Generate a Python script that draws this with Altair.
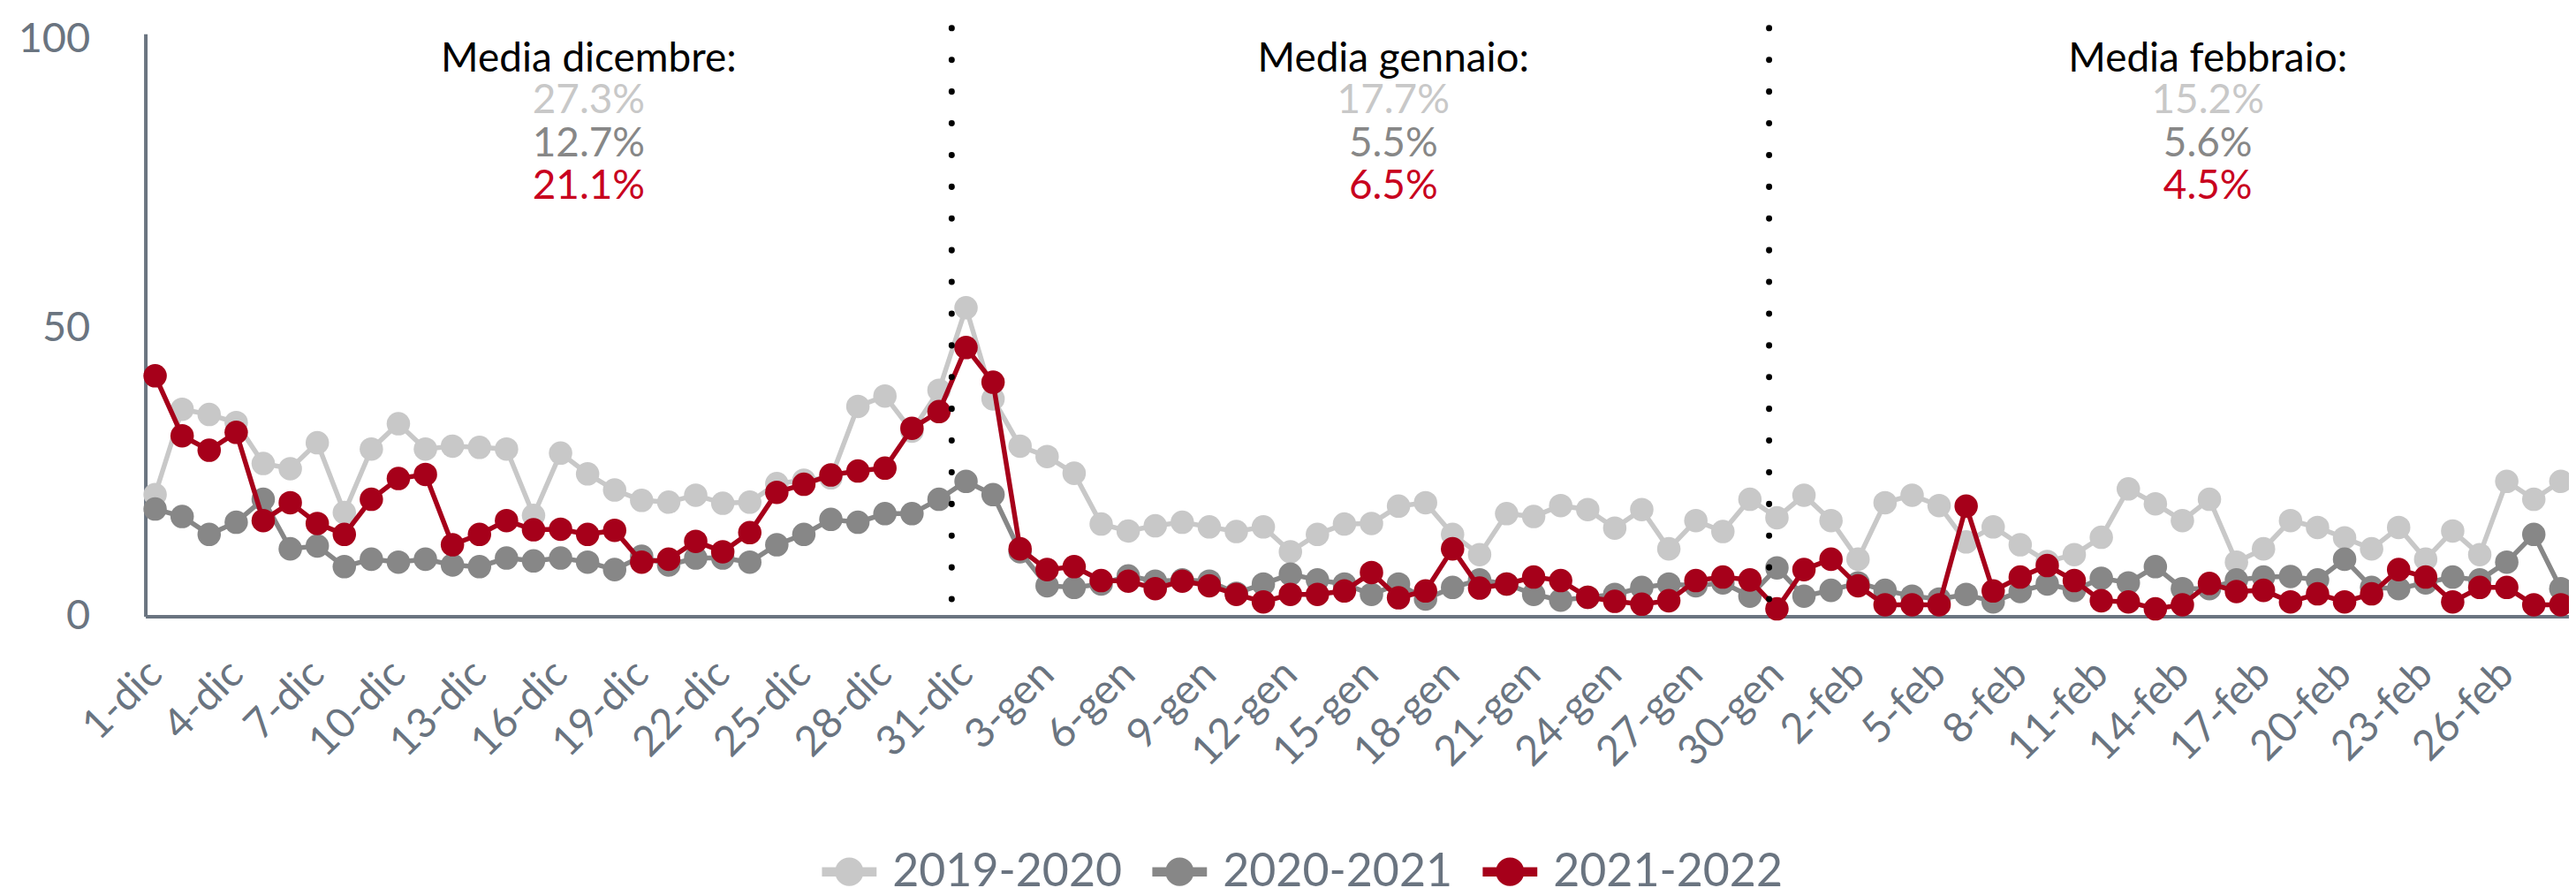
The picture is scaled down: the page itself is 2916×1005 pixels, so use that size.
import altair as alt
import pandas as pd

# ---- categories ----
days = ([f"{d}-dic" for d in range(1, 32)] + [f"{d}-gen" for d in range(1, 32)]
        + [f"{d}-feb" for d in range(1, 29)])
series = ["2019-2020", "2020-2021", "2021-2022"]
colors = ["#c8c8c8", "#878787", "#a6001a"]
text_colors = ["#c8c8c8", "#878787", "#c8001e"]

# ---- series values ----
s2019 = [21.1, 35.9, 35.0, 33.6, 26.5, 25.6, 30.1, 18.0, 29.0, 33.4, 29.0, 29.5, 29.3,
         29.0, 17.5, 28.3, 24.7, 21.9, 20.1, 19.8, 21.0, 19.6, 19.8, 23.0, 23.6, 24.0,
         36.4, 38.2, 32.1, 39.2, 53.5, 37.7, 29.5, 27.7, 24.8, 16.0, 14.8, 15.7, 16.3,
         15.5, 14.7, 15.5, 11.2, 14.2, 16.0, 16.1, 19.1, 19.7, 14.2, 10.7, 17.8, 17.3,
         19.2, 18.5, 15.3, 18.5, 11.7, 16.6, 14.7, 20.3, 17.1, 21.0, 16.6, 9.9, 19.7,
         21.0, 19.2, 12.9, 15.5, 12.4, 9.5, 10.7, 13.7, 22.1, 19.5, 16.6, 20.3, 9.4,
         11.7, 16.6, 15.4, 13.6, 11.7, 15.4, 9.9, 14.8, 10.7, 23.4, 20.3, 23.4]
s2020 = [18.6, 17.3, 14.2, 16.3, 20.3, 11.7, 12.2, 8.6, 9.9, 9.4, 9.9, 8.9, 8.6,
         10.1, 9.6, 10.1, 9.4, 8.1, 10.4, 8.9, 10.1, 10.1, 9.4, 12.4, 14.2, 16.8,
         16.3, 17.8, 17.8, 20.3, 23.4, 21.1, 11.2, 5.3, 5.0, 5.6, 7.0, 6.1, 6.3,
         6.1, 4.0, 5.6, 7.3, 6.3, 5.6, 3.8, 5.6, 3.0, 5.0, 6.3, 5.6, 3.8,
         2.8, 3.3, 3.8, 5.0, 5.6, 5.3, 5.8, 3.5, 8.4, 3.5, 4.5, 5.8, 4.5,
         3.5, 3.0, 3.8, 2.5, 4.3, 5.6, 4.5, 6.6, 5.8, 8.6, 4.8, 4.8, 6.3,
         6.8, 6.9, 6.3, 9.9, 5.0, 4.8, 5.8, 6.8, 6.3, 9.4, 14.2, 4.8]
s2021 = [41.7, 31.3, 28.8, 31.9, 16.6, 19.7, 16.1, 14.2, 20.3, 23.9, 24.6, 12.4, 14.2,
         16.6, 15.0, 15.1, 14.2, 14.9, 9.4, 9.9, 13.0, 11.2, 14.5, 21.5, 22.9, 24.5,
         25.2, 25.7, 32.6, 35.5, 46.6, 40.6, 11.7, 8.1, 8.6, 6.2, 6.1, 4.8, 6.1,
         5.3, 3.8, 2.5, 3.8, 3.8, 4.4, 7.6, 3.2, 4.4, 11.7, 4.9, 5.6, 6.8,
         6.2, 3.3, 2.6, 2.1, 2.7, 6.2, 6.8, 6.3, 1.3, 8.1, 9.9, 5.3, 2.0,
         2.0, 2.0, 19.1, 4.4, 6.8, 8.8, 6.2, 2.7, 2.5, 1.3, 2.0, 5.7, 4.3,
         4.5, 2.5, 3.9, 2.5, 3.9, 8.1, 6.8, 2.5, 5.0, 5.0, 2.0, 2.0]
all_series = [s2019, s2020, s2021]

# ---- monthly averages annotation ----
month_titles = ["Media dicembre:", "Media gennaio:", "Media febbraio:"]
month_pos = [16.04, 45.81, 75.94]
avg_2019 = ["27.3%", "17.7%", "15.2%"]
avg_2020 = ["12.7%", "5.5%", "5.6%"]
avg_2021 = ["21.1%", "6.5%", "4.5%"]
avg_lists = [avg_2019, avg_2020, avg_2021]
title_y = 94.5
avg_y = [87.2, 79.8, 72.4]

# month separators
sep_pos = [29.47, 59.71]
sep_top, sep_bottom = 102.0, 2.7

AX = "#6a7480"
FONT = "Lato"

rows = []
for name, vals in zip(series, all_series):
    for i, v in enumerate(vals):
        rows.append({"idx": i, "day": days[i], "serie": name, "val": v})
df = pd.DataFrame(rows)

label_expr = "[" + ",".join(f"'{d}'" for d in days) + "][datum.value]"

x_enc = alt.X("idx:Q",
              scale=alt.Scale(domain=[-0.36, 89.3], nice=False, zero=False),
              axis=alt.Axis(values=list(range(0, 90, 3)), labelExpr=label_expr,
                            labelAngle=-45, labelAlign="right", labelBaseline="middle",
                            labelFontSize=47, labelFont=FONT, labelColor=AX,
                            labelPadding=58, ticks=False, tickSize=0,
                            domainColor=AX, domainWidth=4, grid=False, title=None,
                            labelOverlap=False, labelFlush=False))
y_enc = alt.Y("val:Q",
              scale=alt.Scale(domain=[0, 101], nice=False),
              axis=alt.Axis(values=[0, 50, 100], labelFontSize=47, labelFont=FONT,
                            labelColor=AX, labelPadding=63, ticks=False, tickSize=0,
                            domainColor=AX, domainWidth=4, grid=False, title=None))

sym_path = ("M-1,-0.17L1,-0.17L1,0.17L-1,0.17Z"
            "M-0.52,0A0.52,0.52,0,1,1,0.52,0A0.52,0.52,0,1,1,-0.52,0Z")
legend = alt.Legend(title=None, orient="none", legendX=768, legendY=920,
                    direction="horizontal", symbolType=sym_path, symbolSize=3844,
                    symbolStrokeWidth=0, symbolOpacity=1, labelFontSize=52,
                    labelFont=FONT, labelColor=AX, columnPadding=34, labelOffset=18,
                    labelLimit=600, padding=0)
color_enc = alt.Color("serie:N", scale=alt.Scale(domain=series, range=colors),
                      legend=legend)

base = alt.Chart(df)
layers = []
for name, c in zip(series, colors):
    sub = base.transform_filter(alt.datum.serie == name)
    layers.append(sub.mark_line(color=c, strokeWidth=5.5).encode(x=x_enc, y=y_enc))
    layers.append(sub.mark_circle(size=707, opacity=1).encode(x=x_enc, y=y_enc,
                                                              color=color_enc))

sep_df = pd.DataFrame({"idx": sep_pos, "val": [sep_top] * 2, "val2": [sep_bottom] * 2})
layers.append(alt.Chart(sep_df).mark_rule(color="black", strokeWidth=7,
                                          strokeCap="round", strokeDash=[0.1, 35.9])
              .encode(x=x_enc, y=y_enc, y2="val2:Q"))

title_df = pd.DataFrame({"idx": month_pos, "val": [title_y] * 3, "txt": month_titles})
layers.append(alt.Chart(title_df).mark_text(font=FONT, fontSize=46, color="black",
                                            baseline="alphabetic", align="center")
              .encode(x=x_enc, y=y_enc, text="txt:N"))
for k in range(3):
    adf = pd.DataFrame({"idx": month_pos, "val": [avg_y[k]] * 3, "txt": avg_lists[k]})
    layers.append(alt.Chart(adf).mark_text(font=FONT, fontSize=46, color=text_colors[k],
                                           baseline="alphabetic", align="center")
                  .encode(x=x_enc, y=y_enc, text="txt:N"))

chart = (alt.layer(*layers)
         .properties(width=2751, height=661,
                     padding={"left": 157, "top": 29, "right": 0, "bottom": 320},
                     autosize=alt.AutoSizeParams(type="none"))
         .configure(font=FONT)
         .configure_view(strokeWidth=0))

chart.save("out.html", embed_options={"renderer": "svg", "actions": False})
